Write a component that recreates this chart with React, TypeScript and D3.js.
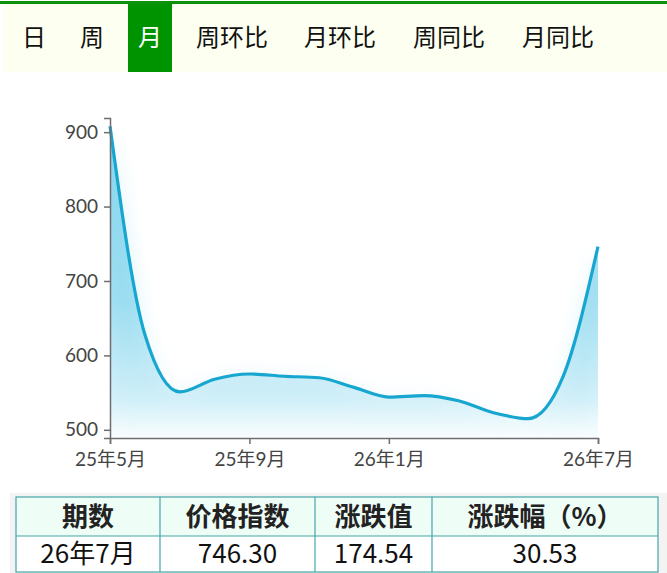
import * as d3 from "d3";
import { useEffect, useRef } from "react";

const months = [
  "25年5月", "25年6月", "25年7月", "25年8月", "25年9月", "25年10月", "25年11月", "25年12月",
  "26年1月", "26年2月", "26年3月", "26年4月", "26年5月", "26年6月", "26年7月",
];
const priceIndex = [908, 628, 551, 568, 575, 572, 570, 557, 544, 546, 539, 523, 515, 571.76, 746.3];
const xTickLabels = ["25年5月", "25年9月", "26年1月", "26年7月"];
const yTickValues = [500, 600, 700, 800, 900];
const tabs = ["日", "周", "月", "周环比", "月环比", "周同比", "月同比"];
const activeTab = "月";
const tableHeaders = ["期数", "价格指数", "涨跌值", "涨跌幅（%）"];
const tableRow = ["26年7月", "746.30", "174.54", "30.53"];

const W = 667;
const H = 573;
const cjk = "'Noto Sans CJK SC', sans-serif";
const num = "Lato, 'Noto Sans CJK SC', sans-serif";

export default function App() {
  const axisRef = useRef<SVGGElement>(null);

  const x = d3.scalePoint<string>().domain(months).range([110, 598]);
  const y = d3.scaleLinear().domain([489, 919]).range([438, 118]);

  const pts = months.map((m, i) => ({ m, v: priceIndex[i] }));
  const line = d3.line<{ m: string; v: number }>()
    .x(d => x(d.m)!)
    .y(d => y(d.v))
    .curve(d3.curveMonotoneX);
  const area = d3.area<{ m: string; v: number }>()
    .x(d => x(d.m)!)
    .y0(y(489))
    .y1(d => y(d.v))
    .curve(d3.curveMonotoneX);

  useEffect(() => {
    const g = d3.select(axisRef.current);
    g.selectAll("*").remove();
    const yAxis = d3.axisLeft(y).tickValues(yTickValues).tickSize(6).tickPadding(6);
    const xAxis = d3.axisBottom(x).tickValues(xTickLabels).tickSize(6).tickPadding(6);
    const ya = g.append("g").attr("transform", "translate(110,0)").call(yAxis);
    const xa = g.append("g").attr("transform", "translate(0,438)").call(xAxis);
    [ya, xa].forEach(a => {
      a.select(".domain").attr("stroke", "#6e6e72").attr("stroke-width", 1.5);
      a.selectAll(".tick line").attr("stroke", "#6e6e72").attr("stroke-width", 1.5);
      a.selectAll(".tick text")
        .attr("fill", "#444")
        .style("font-size", "19px")
        .style("font-family", num);
    });
    xa.selectAll(".tick text").attr("dy", "0.85em");
  }, []);

  // tab text start x positions
  const tabX = [22, 80, 138, 196, 304, 413, 522];

  const colX = [16, 160, 315, 432, 658];

  return (
    <div>
      <style>{`body{margin:0;background:#fff}`}</style>
      <svg width={W} height={H} style={{ display: "block" }}>
        <defs>
          <linearGradient id="fillGrad" gradientUnits="userSpaceOnUse" x1="0" y1="120" x2="0" y2="438">
            <stop offset="0" stopColor="#5ec8e8" stopOpacity={0.75} />
            <stop offset="0.57" stopColor="#5ec8e8" stopOpacity={0.52} />
            <stop offset="0.88" stopColor="#6ccdea" stopOpacity={0.24} />
            <stop offset="1" stopColor="#8ad8ef" stopOpacity={0.04} />
          </linearGradient>
          <filter id="blur" x="-10%" y="-20%" width="120%" height="140%">
            <feGaussianBlur stdDeviation="10" />
          </filter>
          <clipPath id="plotClip">
            <rect x={111} y={100} width={487} height={337} />
          </clipPath>
        </defs>

        {/* tab bar */}
        <rect x={0} y={0} width={W} height={H} fill="#fff" />
        <rect x={3} y={4} width={W - 3} height={68} fill="#fdfff0" />
        <rect x={0} y={1} width={W} height={3} fill="#0a930a" />
        {tabs.map((t, i) => {
          const active = t === activeTab;
          const w = t.length * 24;
          return (
            <g key={t}>
              {active && <rect x={tabX[i] - 10} y={4} width={w + 20} height={68} fill="#009300" />}
              <text
                x={tabX[i]}
                y={38}
                dy="0.35em"
                fontSize={24}
                fontFamily={cjk}
                fill={active ? "#ffffff" : "#111"}
              >
                {t}
              </text>
            </g>
          );
        })}

        {/* chart */}
        <g clipPath="url(#plotClip)">
          <path d={area(pts)!} fill="url(#fillGrad)" filter="url(#blur)" opacity={0.45} />
          <path d={area(pts)!} fill="url(#fillGrad)" />
        </g>
        <path d={line(pts)!} fill="none" stroke="#17a6cf" strokeWidth={3.2} />
        <g ref={axisRef} />

        {/* table */}
        <rect x={10} y={493} width={W - 10} height={H - 493} fill="#f3f3f3" />
        <rect x={colX[0]} y={497} width={colX[4] - colX[0]} height={39} fill="#effdf7" />
        <rect x={colX[0]} y={536} width={colX[4] - colX[0]} height={36} fill="#ffffff" />
        {tableHeaders.map((h, i) => (
          <text
            key={h}
            x={(colX[i] + colX[i + 1]) / 2}
            y={517}
            dy="0.36em"
            textAnchor="middle"
            fontSize={26}
            fontWeight="bold"
            fontFamily={cjk}
            fill="#222"
          >
            {h}
          </text>
        ))}
        {tableRow.map((c, i) => (
          <text
            key={i}
            x={(colX[i] + colX[i + 1]) / 2}
            y={554}
            dy="0.36em"
            textAnchor="middle"
            fontSize={26}
            fontFamily={cjk}
            fill="#111"
          >
            {c}
          </text>
        ))}
        <g stroke="#45a6a6" strokeWidth={1.2} fill="none">
          <rect x={colX[0]} y={497} width={colX[4] - colX[0]} height={75} />
          <line x1={colX[0]} x2={colX[4]} y1={536} y2={536} />
          {colX.slice(1, 4).map(cx => (
            <line key={cx} x1={cx} x2={cx} y1={497} y2={572} />
          ))}
        </g>
      </svg>
    </div>
  );
}
